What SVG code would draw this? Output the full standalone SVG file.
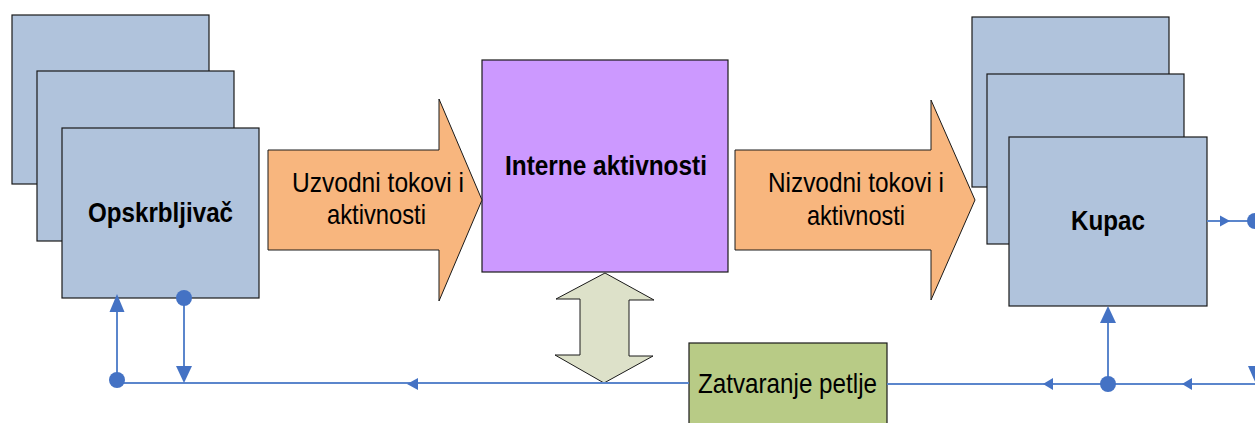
<svg xmlns="http://www.w3.org/2000/svg" width="1255" height="423" viewBox="0 0 1255 423">
<style>
.box{fill:#B0C3DC;stroke:#1a1a1a;stroke-width:1.2}
.flow{fill:#F8B67E;stroke:#1a1a1a;stroke-width:1}
.lbl{font-family:"Liberation Sans Narrow","Liberation Sans",Arial,sans-serif;font-size:28.5px;fill:#000;text-anchor:middle}
.b{font-weight:bold}
.ln{fill:none;stroke:#5B86CC;stroke-width:2}
.ah{fill:#4472C4}
</style>
<rect width="1255" height="423" fill="#fff"/>
<g id="supplier">
<rect class="box" x="12" y="15" width="197" height="169"/>
<rect class="box" x="37" y="71" width="197" height="170"/>
<rect class="box" x="62" y="128" width="197" height="170"/>
<text class="lbl b" x="160.5" y="222" textLength="145" lengthAdjust="spacingAndGlyphs">Opskrbljivač</text>
</g>
<g id="customer">
<rect class="box" x="972" y="17" width="197" height="170"/>
<rect class="box" x="987" y="74" width="197" height="170"/>
<rect class="box" x="1009" y="137" width="198" height="169"/>
<text class="lbl b" x="1108" y="230" textLength="74" lengthAdjust="spacingAndGlyphs">Kupac</text>
</g>
<g id="internal">
<rect x="482" y="60" width="246" height="212" fill="#CC99FF" stroke="#1a1a1a" stroke-width="1.2"/>
<text class="lbl b" x="606" y="175" textLength="202" lengthAdjust="spacingAndGlyphs">Interne aktivnosti</text>
</g>
<g id="upstream">
<polygon class="flow" points="268,150 439,150 439,99 482,200 439,301 439,250 268,250"/>
<text class="lbl" x="378" y="192" textLength="172" lengthAdjust="spacingAndGlyphs">Uzvodni tokovi i</text>
<text class="lbl" x="376.5" y="224" textLength="99" lengthAdjust="spacingAndGlyphs">aktivnosti</text>
</g>
<g id="downstream">
<polygon class="flow" points="735,150 931,150 931,100 975,200 931,300 931,250 735,250"/>
<text class="lbl" x="856" y="192" textLength="176" lengthAdjust="spacingAndGlyphs">Nizvodni tokovi i</text>
<text class="lbl" x="856" y="225" textLength="98" lengthAdjust="spacingAndGlyphs">aktivnosti</text>
</g>
<g id="exchange">
<polygon points="605,273 556,299 580,299 580,355 555,355 604,383 653,356 629,356 629,300 654,300" fill="#DDE1C9" stroke="#1a1a1a" stroke-width="1"/>
</g>
<g id="closing">
<rect x="689" y="343" width="198" height="84" fill="#B8CB86" stroke="#1a1a1a" stroke-width="1.2"/>
<text class="lbl" x="787.5" y="393" textLength="179" lengthAdjust="spacingAndGlyphs">Zatvaranje petlje</text>
</g>
<g id="connectors">
<path class="ln" d="M117,383 H689"/>
<path class="ln" d="M887,384 H1255"/>
<path class="ln" d="M117,380 V310"/>
<path class="ln" d="M184,298 V368"/>
<path class="ln" d="M1108,384 V320"/>
<path class="ln" d="M1207,221 H1255"/>
<circle class="ah" cx="117" cy="380" r="8"/>
<circle class="ah" cx="184" cy="298" r="8"/>
<circle class="ah" cx="1108" cy="384" r="8"/>
<circle class="ah" cx="1255" cy="221" r="8"/>
<polygon class="ah" points="117,294 109.5,312 124.5,312"/>
<polygon class="ah" points="184,383 176,366 192,366"/>
<polygon class="ah" points="1108,306 1100,323 1116,323"/>
<polygon class="ah" points="407,384 418,378 418,390"/>
<polygon class="ah" points="1043,384 1053,378 1053,390"/>
<polygon class="ah" points="1182,384 1192,378 1192,390"/>
<polygon class="ah" points="1230,221 1220,215.5 1220,226.5"/>
<polygon class="ah" points="1248,366 1264,366 1256,384"/>
</g>
</svg>
